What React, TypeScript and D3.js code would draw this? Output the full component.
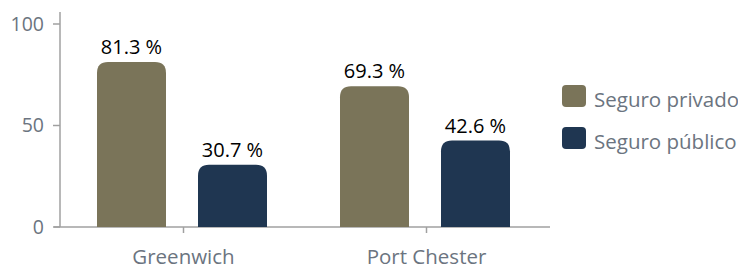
import React, { useEffect, useRef } from "react";
import * as d3 from "d3";

const cities = ["Greenwich", "Port Chester"];
const series = ["Seguro privado", "Seguro público"];
const privado = [81.3, 69.3];
const publico = [30.7, 42.6];
const yTicks = [0, 50, 100];
const colors = ["#7a7459", "#1f3651"];

function topRounded(x: number, y: number, w: number, h: number, r: number) {
  const rr = Math.min(r, h, w / 2);
  return `M${x},${y + h}V${y + rr}Q${x},${y} ${x + rr},${y}H${x + w - rr}Q${x + w},${y} ${x + w},${y + rr}V${y + h}Z`;
}

export default function App() {
  const ref = useRef<SVGSVGElement | null>(null);

  useEffect(() => {
    const node = ref.current;
    if (!node) return;
    const svg = d3.select(node);
    svg.selectAll("*").remove();

    const font = "'Open Sans', sans-serif";
    const axisColor = "#a0a0a0";
    const textGray = "#6b7480";

    const y = d3.scaleLinear().domain([0, 100]).range([227, 24]);
    const x0 = d3.scaleBand().domain(cities).range([62, 548]).padding(0);
    const x1 = d3
      .scaleBand()
      .domain(series)
      .range([35, 205])
      .paddingInner(32 / 101)
      .paddingOuter(0);

    // y axis
    svg.append("line")
      .attr("x1", 60).attr("x2", 60)
      .attr("y1", 12).attr("y2", y(0))
      .attr("stroke", axisColor).attr("stroke-width", 1.5);
    const yt = svg.selectAll("g.ytick").data(yTicks).enter().append("g")
      .attr("transform", d => `translate(0,${y(d)})`);
    yt.append("line").attr("x1", 53).attr("x2", 60).attr("stroke", axisColor).attr("stroke-width", 1.5);
    yt.append("text")
      .attr("x", 44).attr("dy", "0.35em")
      .attr("text-anchor", "end")
      .attr("font-family", font).attr("font-size", 19.5)
      .attr("fill", textGray)
      .text(d => d);

    // x axis
    svg.append("line")
      .attr("x1", 54).attr("x2", 550)
      .attr("y1", y(0)).attr("y2", y(0))
      .attr("stroke", axisColor).attr("stroke-width", 1.5);
    const xt = svg.selectAll("g.xtick").data(cities).enter().append("g")
      .attr("transform", d => `translate(${(x0(d) as number) + x0.bandwidth() / 2},${y(0)})`);
    xt.append("line").attr("y1", 0).attr("y2", 6).attr("stroke", axisColor).attr("stroke-width", 1.5);
    xt.append("text")
      .attr("y", 37)
      .attr("text-anchor", "middle")
      .attr("font-family", font).attr("font-size", 20.5)
      .attr("fill", textGray)
      .text(d => d);

    // bars
    const groups = svg.selectAll("g.city").data(cities).enter().append("g")
      .attr("transform", d => `translate(${x0(d)},0)`);
    const values = [privado, publico];
    groups.each(function (city, ci) {
      const g = d3.select(this);
      series.forEach((s, si) => {
        const v = values[si][ci];
        const bx = x1(s) as number;
        const bw = x1.bandwidth();
        g.append("path")
          .attr("d", topRounded(bx, y(v), bw, y(0) - y(v), 11))
          .attr("fill", colors[si]);
        g.append("text")
          .attr("x", bx + bw / 2).attr("y", y(v) - 8)
          .attr("text-anchor", "middle")
          .attr("font-family", font).attr("font-size", 20)
          .attr("fill", "#000")
          .text(`${v} %`);
      });
    });

    // legend
    const leg = svg.selectAll("g.leg").data(series).enter().append("g")
      .attr("transform", (d, i) => `translate(562,${85 + i * 42})`);
    leg.append("rect")
      .attr("width", 24).attr("height", 22).attr("rx", 4)
      .attr("fill", (d, i) => colors[i]);
    leg.append("text")
      .attr("x", 32).attr("y", 22)
      .attr("font-family", font).attr("font-size", 20.5)
      .attr("fill", textGray)
      .text(d => d);
  }, []);

  return (
    <svg
      ref={ref}
      width={738}
      height={270}
      style={{ position: "absolute", left: 0, top: 0, background: "#fff" }}
    />
  );
}
